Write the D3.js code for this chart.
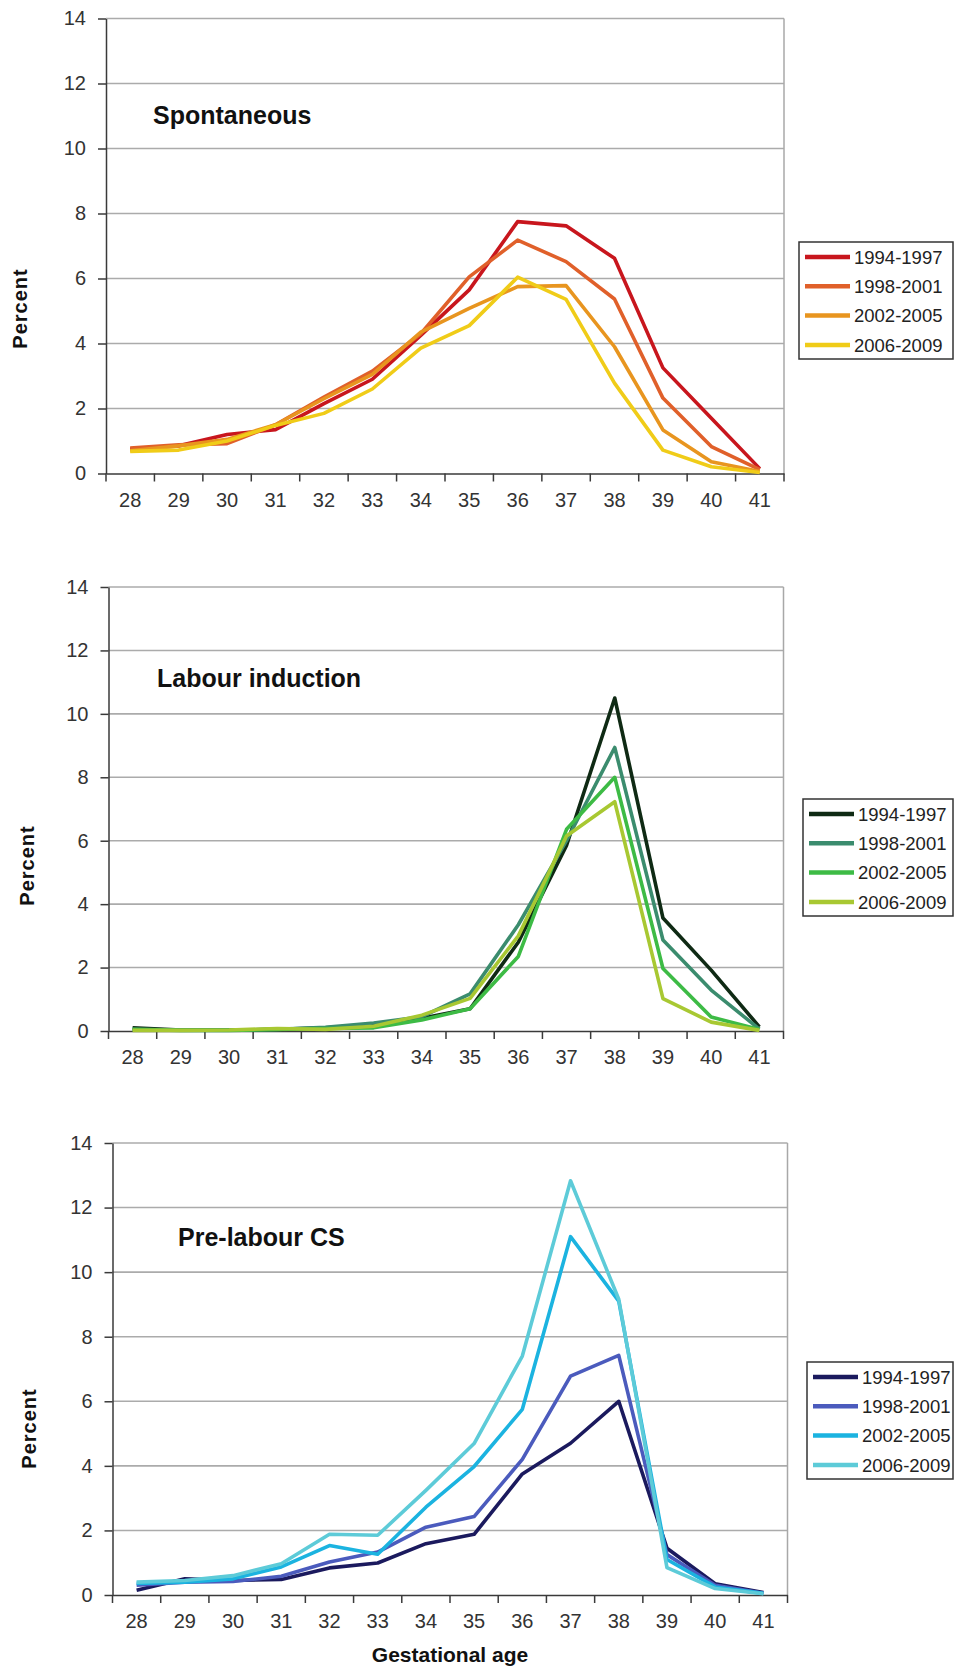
<!DOCTYPE html>
<html lang="en">

<head>
  <meta charset="utf-8">
  <title>Gestational age by onset of labour</title>
  <script src="https://cdn.jsdelivr.net/npm/d3@7"></script>
  <style>
    body { margin: 0; background: #fff; }
    svg text { font-family: "Liberation Sans", Arial, sans-serif; }
  </style>
</head>

<body>
  <svg class="chart"></svg>
  <script>
    // categories and tick labels
    var ages = ["28", "29", "30", "31", "32", "33", "34", "35", "36", "37", "38", "39", "40", "41"];
    var periods = ["1994-1997", "1998-2001", "2002-2005", "2006-2009"];
    var yTicks = [0, 2, 4, 6, 8, 10, 12, 14];

    // Spontaneous
    var spont9497 = [0.75, 0.85, 1.2, 1.35, 2.15, 2.9, 4.25, 5.65, 7.75, 7.62, 6.62, 3.25, 1.7, 0.15];
    var spont9801 = [0.78, 0.88, 0.92, 1.5, 2.35, 3.15, 4.3, 6.05, 7.18, 6.52, 5.37, 2.32, 0.83, 0.12];
    var spont0205 = [0.7, 0.85, 1.05, 1.5, 2.3, 3.05, 4.35, 5.08, 5.75, 5.78, 3.9, 1.34, 0.36, 0.06];
    var spont0609 = [0.68, 0.72, 1.0, 1.48, 1.85, 2.6, 3.86, 4.55, 6.04, 5.36, 2.78, 0.72, 0.21, 0.03];

    // Labour induction
    var ind9497 = [0.1, 0.03, 0.03, 0.05, 0.1, 0.2, 0.4, 0.7, 2.8, 5.85, 10.5, 3.56, 1.92, 0.13];
    var ind9801 = [0.05, 0.03, 0.03, 0.05, 0.12, 0.25, 0.45, 1.17, 3.35, 6.0, 8.94, 2.87, 1.29, 0.06];
    var ind0205 = [0.05, 0.02, 0.02, 0.05, 0.08, 0.1, 0.35, 0.7, 2.35, 6.36, 8.0, 1.97, 0.44, 0.05];
    var ind0609 = [0.02, 0.02, 0.03, 0.08, 0.05, 0.15, 0.5, 1.03, 3.0, 6.15, 7.23, 1.02, 0.28, 0.02];

    // Pre-labour CS
    var cs9497 = [0.15, 0.5, 0.45, 0.48, 0.84, 0.99, 1.59, 1.88, 3.75, 4.7, 6.0, 1.45, 0.35, 0.08];
    var cs9801 = [0.3, 0.4, 0.42, 0.58, 1.02, 1.33, 2.1, 2.43, 4.2, 6.78, 7.42, 1.25, 0.3, 0.05];
    var cs0205 = [0.36, 0.4, 0.5, 0.87, 1.53, 1.26, 2.72, 3.98, 5.75, 11.1, 9.1, 1.1, 0.25, 0.05];
    var cs0609 = [0.4, 0.45, 0.6, 0.97, 1.88, 1.85, 3.24, 4.69, 7.4, 12.83, 9.16, 0.85, 0.2, 0.04];

    // colours
    var spontColors = ["#c8161d", "#e0602a", "#e8951f", "#f0cc18"];
    var indColors = ["#0f2a14", "#3b8c6e", "#3dbb45", "#a8c832"];
    var csColors = ["#1b1a5e", "#4b5bbd", "#1bb3e0", "#5dcbd8"];

    var w = 954;
    var h = 1667;

    var svg = d3.select("svg")
      .attr("width", w)
      .attr("height", h);

    // one entry per panel: where it goes on the page
    var panels = [
      { title: "Spontaneous", series: [spont9497, spont9801, spont0205, spont0609], colors: spontColors,
        left: 106, right: 784, top: 18.5, bottom: 473.5, titleX: 153, titleY: 124,
        legX: 799, legY: 242, percentX: 20 },
      { title: "Labour induction", series: [ind9497, ind9801, ind0205, ind0609], colors: indColors,
        left: 108.5, right: 783.5, top: 587, bottom: 1031, titleX: 157, titleY: 687,
        legX: 803, legY: 799, percentX: 27 },
      { title: "Pre-labour CS", series: [cs9497, cs9801, cs0205, cs0609], colors: csColors,
        left: 112.5, right: 787.5, top: 1143, bottom: 1595, titleX: 178, titleY: 1246,
        legX: 807, legY: 1362, percentX: 28.5 }
    ];

    panels.forEach(function(p, k) {
      var g = svg.append("g");

      //Scale x
      var x = d3.scaleBand()
        .domain(ages)
        .range([p.left, p.right]);

      //Scale y
      var y = d3.scaleLinear()
        .domain([0, 14])
        .range([p.bottom, p.top]);

      // gridlines
      g.selectAll(".grid")
        .data(yTicks.slice(1))
        .enter()
        .append("line")
        .attr("x1", p.left)
        .attr("x2", p.right)
        .attr("y1", function(d) { return y(d); })
        .attr("y2", function(d) { return y(d); })
        .attr("stroke", "#ababab")
        .attr("stroke-width", 1.6);

      // right border
      g.append("line")
        .attr("x1", p.right).attr("x2", p.right)
        .attr("y1", p.top).attr("y2", p.bottom)
        .attr("stroke", "#a8a8a8")
        .attr("stroke-width", 1.5);

      // Y axis
      var yAxis = d3.axisLeft(y)
        .tickValues(yTicks)
        .tickSize(8)
        .tickPadding(12)
        .tickSizeOuter(0);
      var ya = g.append("g")
        .attr("transform", "translate(" + p.left + ",0)")
        .call(yAxis);
      ya.selectAll("text")
        .attr("font-size", 20)
        .attr("fill", "#333")
        .style("font-family", "'Liberation Sans', Arial, sans-serif");
      ya.selectAll("line, path").attr("stroke", "#3a3a3a").attr("stroke-width", 1.5);

      // X axis labels at band centres
      var xAxis = d3.axisBottom(x)
        .tickSize(0)
        .tickPadding(19);
      var xa = g.append("g")
        .attr("transform", "translate(0," + p.bottom + ")")
        .call(xAxis);
      xa.select(".domain").attr("stroke", "#3a3a3a").attr("stroke-width", 1.5);
      xa.selectAll("text")
        .attr("font-size", 20)
        .attr("fill", "#333")
        .style("font-family", "'Liberation Sans', Arial, sans-serif");

      // X tick marks between categories
      var bounds = ages.map(function(a) { return x(a); }).concat([p.right]);
      g.selectAll(".xt")
        .data(bounds)
        .enter()
        .append("line")
        .attr("x1", function(d) { return d; })
        .attr("x2", function(d) { return d; })
        .attr("y1", p.bottom)
        .attr("y2", p.bottom + 8)
        .attr("stroke", "#3a3a3a")
        .attr("stroke-width", 1.5);

      // lines
      var line = d3.line()
        .x(function(d, i) { return x(ages[i]) + x.bandwidth() / 2; })
        .y(function(d) { return y(d); });

      p.series.forEach(function(s, i) {
        g.append("path")
          .datum(s)
          .attr("d", line)
          .attr("fill", "none")
          .attr("stroke", p.colors[i])
          .attr("stroke-width", 3.6)
          .attr("stroke-linejoin", "round");
      });

      // panel title
      g.append("text")
        .attr("x", p.titleX)
        .attr("y", p.titleY)
        .attr("font-size", 25)
        .attr("font-weight", "bold")
        .attr("fill", "#111")
        .text(p.title);

      // legend
      var legH = 117;
      g.append("rect")
        .attr("x", p.legX)
        .attr("y", p.legY)
        .attr("width", 953 - p.legX)
        .attr("height", legH)
        .attr("fill", "#fff")
        .attr("stroke", "#333")
        .attr("stroke-width", 1.5);

      var items = g.selectAll(".leg")
        .data(periods)
        .enter()
        .append("g")
        .attr("transform", function(d, i) {
          return "translate(" + p.legX + "," + (p.legY + 15 + i * 29.3) + ")";
        });
      items.append("line")
        .attr("x1", 6).attr("x2", 51)
        .attr("stroke", function(d, i) { return p.colors[i]; })
        .attr("stroke-width", 4.5);
      items.append("text")
        .attr("x", 55)
        .attr("dy", "0.36em")
        .attr("font-size", 18.5)
        .attr("fill", "#222")
        .text(function(d) { return d; });

      // y label
      var py = p.legY + legH / 2 + 8;
      g.append("text")
        .attr("transform", "translate(" + p.percentX + "," + py + ") rotate(-90)")
        .attr("text-anchor", "middle")
        .attr("dy", "0.36em")
        .attr("font-size", 20)
        .attr("font-weight", "bold")
        .attr("letter-spacing", 1)
        .attr("fill", "#111")
        .text("Percent");

      if (k === 2) {
        g.append("text")
          .attr("x", 450)
          .attr("y", 1662)
          .attr("text-anchor", "middle")
          .attr("font-size", 21)
          .attr("font-weight", "bold")
          .attr("fill", "#111")
          .text("Gestational age");
      }
    });
  </script>
</body>

</html>
